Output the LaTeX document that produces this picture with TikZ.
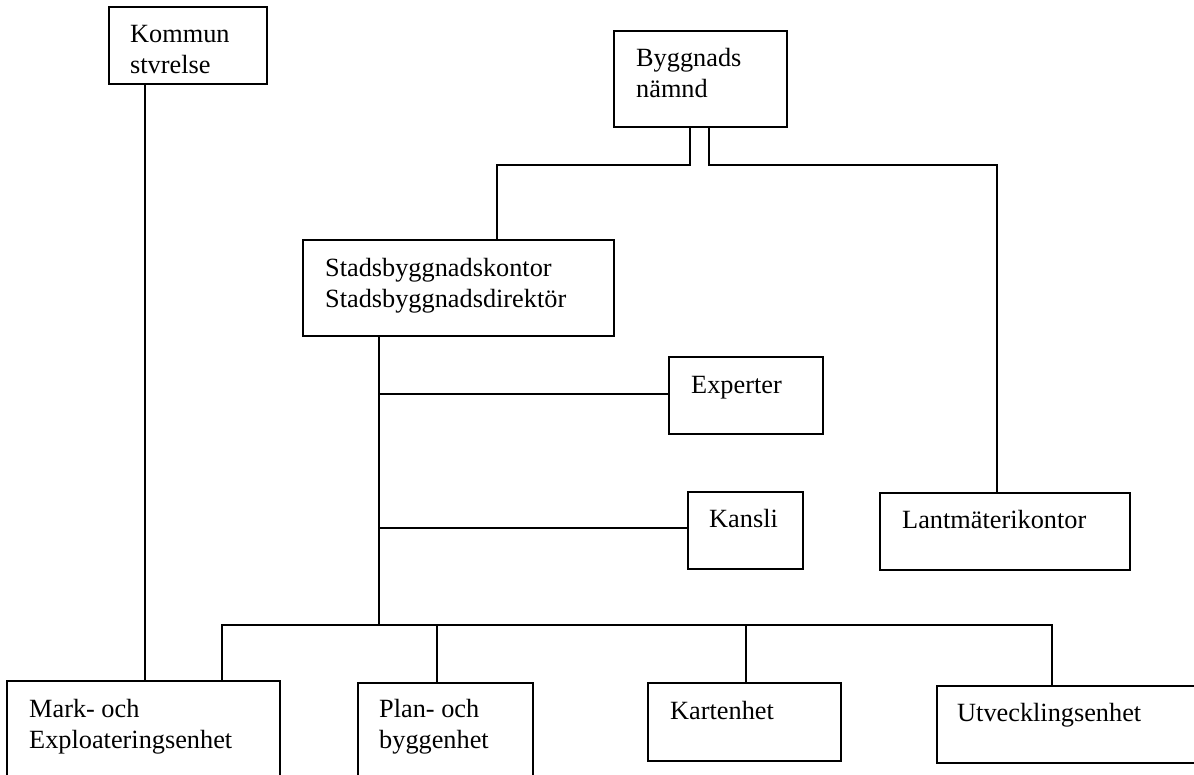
\documentclass[tikz,border=0pt]{standalone}
\usepackage{fontspec}
\setmainfont{Liberation Serif}
\begin{document}
\begin{tikzpicture}[x=1pt,y=-1pt,
  box/.style={draw=black, line width=1.8pt, inner sep=0pt, minimum width=#1},
  lbl/.style={anchor=base west, inner sep=0pt, align=left, font=\fontsize{26.3}{31}\selectfont},
  conn/.style={draw=black, line width=1.8pt}]
\useasboundingbox (0,0) rectangle (1194,774);
\clip (0,0) rectangle (1194,774);
% boxes
\node[box=158pt, minimum height=77pt] (kommun) at (188,45.5) {};
\node[box=173pt, minimum height=96pt] (bygg) at (700.5,79) {};
\node[box=311pt, minimum height=96pt] (stads) at (458.5,288) {};
\node[box=154pt, minimum height=77pt] (exp) at (746,395.5) {};
\node[box=115pt, minimum height=77pt] (kansli) at (745.5,530.5) {};
\node[box=250pt, minimum height=77pt] (lant) at (1005,531.5) {};
\node[box=273pt, minimum height=130pt] (mark) at (143.5,746) {};
\node[box=175pt, minimum height=130pt] (plan) at (445.5,748) {};
\node[box=193pt, minimum height=78pt] (kart) at (744.5,722) {};
\node[box=280pt, minimum height=77pt] (utv) at (1077,724.5) {};
% texts (base = baseline of last line)
\node[lbl] (kommunT) at (130,73) {Kommun\\stvrelse};
\node[lbl] (byggT) at (636,97) {Byggnads\\nämnd};
\node[lbl] (stadsT) at (325,307) {Stadsbyggnadskontor\\Stadsbyggnadsdirektör};
\node[lbl] (expT) at (691,393) {Experter};
\node[lbl] (kansliT) at (709,527) {Kansli};
\node[lbl] (lantT) at (902,528) {Lantmäterikontor};
\node[lbl] (markT) at (29,748) {Mark- och\\Exploateringsenhet};
\node[lbl] (planT) at (379,748) {Plan- och\\byggenhet};
\node[lbl] (kartT) at (670,719) {Kartenhet};
\node[lbl] (utvT) at (957,721) {Utvecklingsenhet};
% connector coordinates
\coordinate (xk) at (145,0);
\coordinate (xbl) at (690,0);
\coordinate (xbr) at (709,0);
\coordinate (xs) at (497,0);
\coordinate (xl) at (997,0);
\coordinate (xm) at (379,0);
\coordinate (hb) at (0,165);
\coordinate (bus) at (0,625);
\coordinate (he) at (0,394);
\coordinate (hk) at (0,528);
\coordinate (dm) at (222,0);
\coordinate (dp) at (437,0);
\coordinate (dk) at (746,0);
\coordinate (du) at (1052,0);
% connectors
\draw[conn] (kommun.south -| xk) -- (mark.north -| xk);
\draw[conn] (bygg.south -| xbl) -- (xbl |- hb) -- (xs |- hb) -- (stads.north -| xs);
\draw[conn] (bygg.south -| xbr) -- (xbr |- hb) -- (xl |- hb) -- (lant.north -| xl);
\draw[conn] (stads.south -| xm) -- (xm |- bus);
\draw[conn] (xm |- he) -- (exp.west |- he);
\draw[conn] (xm |- hk) -- (kansli.west |- hk);
\draw[conn] (mark.north -| dm) -- (dm |- bus) -- (du |- bus) -- (utv.north -| du);
\draw[conn] (dp |- bus) -- (plan.north -| dp);
\draw[conn] (dk |- bus) -- (kart.north -| dk);
\end{tikzpicture}
\end{document}
